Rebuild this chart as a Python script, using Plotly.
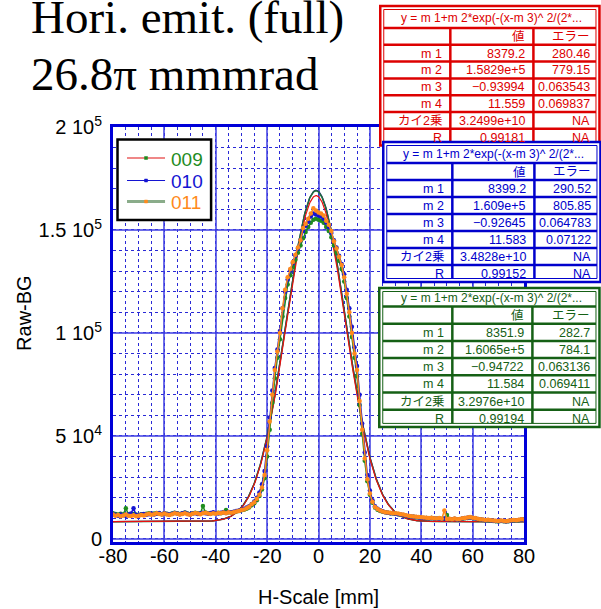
import numpy as np
import plotly.graph_objects as go

# ---------------- data ----------------
x_mm = list(range(-80, 81))

# Raw-BG counts (in thousands), 1 mm steps
raw_009_k = [
    12.5, 12.1, 11.8, 12.2, 11.9, 14.9, 12.0, 11.7, 12.1, 11.8,
    11.6, 12.0, 11.8, 12.2, 12.5, 12.1, 12.3, 12.6, 12.2, 12.0,
    12.5, 12.2, 11.9, 12.3, 12.7, 12.4, 12.1, 12.4, 12.8, 12.3,
    12.0, 12.4, 12.7, 12.4, 12.2, 16.0, 12.8, 12.4, 12.3, 12.6,
    12.4, 12.7, 12.5, 12.9, 14.0,
    13.0, 12.8, 13.1, 13.3, 13.5, 13.9, 14.2, 14.7, 15.3, 16.3, 17.3, 18.8, 20.8, 24.0, 29.5,
    40.0, 53.0, 66.0, 78.0, 88.0, 97.0, 108.0, 117.0, 123.5, 128.0,
    132.0, 135.5, 139.0, 142.5, 146.0, 149.0, 151.5, 153.5, 155.0, 155.5,
    155.0, 154.5, 153.5, 151.5, 149.5, 146.5, 142.5, 139.0, 135.0, 131.0,
    125.0, 117.0, 108.0, 98.0, 88.0, 79.0, 65.0, 51.0, 38.0, 28.0, 21.5,
    17.5, 15.2, 14.2, 13.6, 13.2, 12.9, 12.7, 12.5, 12.3, 12.2,
    12.0, 11.7, 11.5, 11.3, 11.0, 10.8, 10.7, 10.5, 10.4, 10.3,
    10.2, 10.1, 10.0, 10.1, 9.9, 9.8, 10.0, 9.7, 9.8, 11.6,
    9.6, 9.5, 9.7, 9.4, 9.6, 9.8, 10.0, 10.2, 10.4, 10.1,
    9.9, 9.6, 9.4, 9.2, 9.0, 9.1, 8.8, 8.7, 8.6, 8.5,
    8.7, 8.6, 8.4, 8.6, 8.8, 9.0, 8.9, 9.1, 9.3, 9.4,
]
raw_010_k = [
    12.0, 11.7, 11.3, 11.8, 11.5, 11.2, 11.9, 12.3, 14.9, 11.6,
    11.4, 11.8, 12.1, 11.7, 12.0, 12.3, 11.9, 12.2, 12.6, 12.0,
    12.4, 12.1, 11.8, 12.2, 12.6, 12.3, 12.0, 12.4, 12.7, 12.2,
    11.9, 12.3, 12.5, 12.1, 12.4, 12.7, 12.4, 12.2, 12.6, 12.9,
    12.5, 12.3, 12.7, 13.0, 12.6,
    13.1, 12.9, 13.2, 13.5, 13.8, 14.2, 14.6, 15.2, 15.9, 17.0, 18.2, 20.0, 22.5, 26.5, 33.0,
    45.0, 59.0, 72.0, 83.0, 92.0, 101.0, 112.0, 120.0, 126.0, 130.5,
    134.0, 137.5, 141.0, 145.0, 149.5, 152.0, 154.0, 156.5, 158.0, 157.5,
    157.0, 156.5, 155.5, 153.5, 151.5, 148.5, 145.0, 141.5, 137.5, 133.5,
    128.5, 121.0, 112.0, 103.0, 93.0, 84.0, 70.0, 56.0, 42.0, 31.0, 23.5,
    18.8, 15.8, 14.6, 13.9, 13.4, 13.0, 12.7, 12.5, 12.4, 12.2,
    12.0, 11.8, 11.6, 11.3, 11.0, 10.9, 10.7, 10.6, 10.4, 10.3,
    10.2, 10.1, 10.0, 10.2, 9.9, 9.8, 9.9, 9.7, 9.9, 9.6,
    9.7, 9.5, 9.8, 9.4, 9.6, 9.9, 10.1, 10.3, 10.5, 10.2,
    10.0, 9.7, 9.5, 9.3, 9.1, 9.2, 8.9, 8.8, 8.7, 8.6,
    8.8, 8.7, 8.5, 8.7, 8.9, 9.1, 9.0, 9.2, 9.4, 9.3,
]
raw_011_k = [
    11.8, 11.2, 11.6, 11.0, 11.4, 11.9, 11.3, 11.1, 11.5, 11.0,
    11.2, 11.6, 11.4, 11.9, 12.2, 11.7, 12.0, 12.4, 12.1, 11.8,
    12.3, 11.9, 11.6, 12.0, 12.5, 12.2, 11.8, 12.1, 12.4, 12.0,
    11.7, 12.2, 12.6, 12.3, 12.0, 12.4, 12.7, 12.3, 12.1, 12.5,
    12.2, 12.6, 12.4, 12.8, 12.5,
    12.9, 12.7, 13.0, 13.3, 13.6, 14.0, 14.3, 14.9, 15.6, 16.8, 17.8, 19.5, 21.5, 25.0, 31.0,
    43.0, 57.0, 70.0, 82.0, 91.0, 100.0, 112.0, 121.0, 127.0, 131.0,
    134.5, 138.0, 141.5, 145.0, 151.0, 153.0, 155.5, 158.0, 160.5, 159.5,
    158.5, 158.0, 157.0, 154.5, 152.5, 149.5, 144.5, 141.0, 137.0, 133.0,
    127.0, 119.0, 110.0, 100.0, 90.0, 82.0, 67.0, 53.0, 39.0, 29.0, 22.0,
    18.0, 15.5, 14.5, 13.8, 13.3, 13.0, 12.8, 12.7, 12.5, 12.4,
    12.3, 12.0, 11.8, 11.5, 11.2, 11.0, 10.9, 10.7, 10.6, 10.5,
    10.4, 10.3, 10.2, 10.3, 10.0, 9.9, 10.1, 9.8, 13.8, 9.7,
    9.8, 9.6, 9.9, 9.5, 9.7, 10.0, 10.2, 10.4, 10.6, 10.3,
    10.1, 9.8, 9.6, 9.4, 9.2, 9.3, 9.0, 8.9, 8.8, 8.7,
    8.9, 8.8, 8.6, 8.8, 9.0, 9.2, 9.1, 9.3, 9.5, 9.4,
]

series_names = ["009", "010", "011"]

# fit parameters  y = m1 + m2*exp(-(x-m3)^2/(2*m4^2))
fit_009 = [8379.2, 1.5829e5, -0.93994, 11.559]
fit_010 = [8399.2, 1.609e5, -0.92645, 11.583]
fit_011 = [8351.9, 1.6065e5, -0.94722, 11.584]

# table texts
table_rows = ["m 1", "m 2", "m 3", "m 4", "カイ2乗", "R"]
table_009_val = ["8379.2", "1.5829e+5", "−0.93994", "11.559", "3.2499e+10", "0.99181"]
table_009_err = ["280.46", "779.15", "0.063543", "0.069837", "NA", "NA"]
table_010_val = ["8399.2", "1.609e+5", "−0.92645", "11.583", "3.4828e+10", "0.99152"]
table_010_err = ["290.52", "805.85", "0.064783", "0.07122", "NA", "NA"]
table_011_val = ["8351.9", "1.6065e+5", "−0.94722", "11.584", "3.2976e+10", "0.99194"]
table_011_err = ["282.7", "784.1", "0.063136", "0.069411", "NA", "NA"]
table_title = "y = m 1+m 2*exp(-(x-m 3)^ 2/(2*..."

y_tickvals = [0, 50000, 100000, 150000, 200000]
y_ticktext = ["0", "5 10<sup>4</sup>", "1 10<sup>5</sup>", "1.5 10<sup>5</sup>", "2 10<sup>5</sup>"]
x_tickvals = [-80, -60, -40, -20, 0, 20, 40, 60, 80]
x_ticktext = ["-80", "-60", "-40", "-20", "0", "20", "40", "60", "80"]

# ---------------- styles ----------------
C_GREEN = "#1e8c1e"
C_BLUE = "#1414d2"
C_ORANGE = "#ff8a1c"
FRAME = "#0000d8"

W, H = 601, 609
PLOT_L, PLOT_R, PLOT_T, PLOT_B = 113, 523.6, 127, 542   # window pixels
L, T = PLOT_L, PLOT_T
R, B = W - PLOT_R, H - PLOT_B
PW, PH = PLOT_R - PLOT_L, PLOT_B - PLOT_T


def px_x(px):
    return (px - PLOT_L) / PW


def px_y(py):
    return (PLOT_B - py) / PH


fig = go.Figure()

# fit curves
xf = np.linspace(-80, 80, 641)


def gauss(p):
    return p[0] + p[1] * np.exp(-((xf - p[2]) ** 2) / (2 * p[3] ** 2))


fig.add_trace(go.Scatter(x=xf, y=gauss(fit_010), mode="lines",
                         line=dict(color="#22227a", width=1.3), showlegend=False, hoverinfo="skip"))
fig.add_trace(go.Scatter(x=xf, y=gauss(fit_011), mode="lines",
                         line=dict(color="#1f6e3c", width=1.5), showlegend=False, hoverinfo="skip"))
fig.add_trace(go.Scatter(x=xf, y=gauss(fit_009), mode="lines",
                         line=dict(color="#e81010", width=1.2), showlegend=False, hoverinfo="skip"))

# data
for vals, col, nm in [(raw_009_k, C_GREEN, "009"), (raw_010_k, C_BLUE, "010"), (raw_011_k, C_ORANGE, "011")]:
    fig.add_trace(go.Scatter(
        x=x_mm, y=[v * 1000 for v in vals], mode="lines+markers", name=nm,
        line=dict(color=col, width=1.5),
        marker=dict(color=col, size=4.5),
        showlegend=False))

shapes = []
annotations = []

SERIF = "Liberation Serif, Times New Roman, serif"
SANS = "Liberation Sans, Arial, sans-serif"

# title
annotations.append(dict(text="Hori. emit. (full)", x=px_x(29), y=px_y(17), xref="paper", yref="paper",
                        xanchor="left", yanchor="middle", showarrow=False,
                        font=dict(family=SERIF, size=47, color="black")))
annotations.append(dict(text="26.8π mmmrad", x=px_x(29), y=px_y(74), xref="paper", yref="paper",
                        xanchor="left", yanchor="middle", showarrow=False,
                        font=dict(family=SERIF, size=47, color="black")))

# axis titles
annotations.append(dict(text="H-Scale [mm]", x=px_x(318), y=px_y(597), xref="paper", yref="paper",
                        xanchor="center", yanchor="middle", showarrow=False,
                        font=dict(family=SANS, size=20, color="black")))
annotations.append(dict(text="Raw-BG", x=px_x(24), y=px_y(313), xref="paper", yref="paper",
                        xanchor="center", yanchor="middle", showarrow=False, textangle=-90,
                        font=dict(family=SANS, size=20, color="black")))

# legend box (drawn)
shapes.append(dict(type="rect", xref="paper", yref="paper",
                   x0=px_x(117.5), x1=px_x(211), y0=px_y(220), y1=px_y(139.5),
                   fillcolor="white", line=dict(color="black", width=2.5), layer="above"))
leg_style = [("#e01010", 1.2, C_GREEN), (C_BLUE, 1.2, C_BLUE), ("#8aac8a", 3, C_ORANGE)]
leg_y = [158, 180.5, 201.5]
for (lc, lw, mc), nm, yy in zip(leg_style, series_names, leg_y):
    shapes.append(dict(type="line", xref="paper", yref="paper",
                       x0=px_x(127), x1=px_x(165), y0=px_y(yy), y1=px_y(yy),
                       line=dict(color=lc, width=lw), layer="above"))
    shapes.append(dict(type="rect", xref="paper", yref="paper",
                       x0=px_x(144.5), x1=px_x(147.5), y0=px_y(yy + 1.5), y1=px_y(yy - 1.5),
                       fillcolor=mc, line=dict(color=mc, width=0.5), layer="above"))
    annotations.append(dict(text=nm, x=px_x(169), y=px_y(yy + 1), xref="paper", yref="paper",
                            xanchor="left", yanchor="middle", showarrow=False,
                            font=dict(family=SANS, size=19, color=mc)))

TFONT = "Liberation Sans, Arial, Noto Sans CJK JP, sans-serif"


def add_table(color, left, top, right, title_bottom, row_h, col1, col2, vals, errs):
    bottom = title_bottom + 7 * row_h
    shapes.append(dict(type="rect", xref="paper", yref="paper",
                       x0=px_x(left), x1=px_x(right), y0=px_y(bottom), y1=px_y(top),
                       fillcolor="white", line=dict(color=color, width=2.5), layer="above"))
    shapes.append(dict(type="rect", xref="paper", yref="paper",
                       x0=px_x(left + 3.5), x1=px_x(right - 3.5), y0=px_y(bottom - 3.5), y1=px_y(top + 3.5),
                       fillcolor="rgba(0,0,0,0)", line=dict(color=color, width=1), layer="above"))
    for k in range(7):
        yy = title_bottom + k * row_h
        shapes.append(dict(type="line", xref="paper", yref="paper",
                           x0=px_x(left + 3.5), x1=px_x(right - 3.5), y0=px_y(yy), y1=px_y(yy),
                           line=dict(color=color, width=2.5), layer="above"))
    for cx in (col1, col2):
        shapes.append(dict(type="line", xref="paper", yref="paper",
                           x0=px_x(cx), x1=px_x(cx), y0=px_y(title_bottom), y1=px_y(bottom - 3.5),
                           line=dict(color=color, width=2.5), layer="above"))
    annotations.append(dict(text=table_title, x=px_x((left + right) / 2 + 2), y=px_y((top + title_bottom) / 2 + 1),
                            xref="paper", yref="paper", xanchor="center", yanchor="middle",
                            showarrow=False, font=dict(family=TFONT, size=12, color=color)))
    header = ["値", "エラー"]
    rows = [("", header[0], header[1])] + list(zip(table_rows, vals, errs))
    for i, (a, b, c) in enumerate(rows):
        yc = title_bottom + (i + 0.5) * row_h + 0.5
        for txt, xr in ((a, col1 - 6), (b, col2 - 6), (c, right - 7)):
            if txt:
                annotations.append(dict(text=txt, x=px_x(xr), y=px_y(yc), xref="paper", yref="paper",
                                        xanchor="right", yanchor="middle", showarrow=False,
                                        font=dict(family=TFONT, size=12.5, color=color)))


add_table("#dd0000", 380, 6, 599, 28, 16.8, 450, 533, table_009_val, table_009_err)
add_table("#0000cc", 383, 142, 600, 163, 17.0, 452, 534, table_010_val, table_010_err)
add_table("#156015", 379, 288, 599, 306.5, 17.2, 452, 532, table_011_val, table_011_err)

axis_common = dict(
    showline=True, linecolor=FRAME, linewidth=3, mirror=True,
    showgrid=True, gridcolor="rgba(60,60,225,0.75)", gridwidth=1.5,
    zeroline=False, ticks="",
    tickfont=dict(family=SANS, size=20, color="black"),
)

fig.update_layout(
    width=W, height=H,
    margin=dict(l=L, r=R, t=T, b=B, pad=0),
    paper_bgcolor="white", plot_bgcolor="white",
    font=dict(family=SANS, color="black"),
    showlegend=False,
    xaxis=dict(range=[-80, 80], tickvals=x_tickvals, ticktext=x_ticktext, ticklabelstandoff=-6,
               minor=dict(dtick=5, tick0=0, showgrid=True, gridcolor="#2a2ad6", gridwidth=1, griddash="dot"),
               **axis_common),
    yaxis=dict(range=[-1500, 200000], tickvals=y_tickvals, ticktext=y_ticktext, ticklabelstandoff=4,
               minor=dict(dtick=10000, tick0=0, showgrid=True, gridcolor="#2a2ad6", gridwidth=1, griddash="dot"),
               **axis_common),
    shapes=shapes, annotations=annotations,
)

# remove the browser's default 8px body margin so the figure sits at the window origin
fig.write_html("out.html", config={"displayModeBar": False},
               post_script="document.body.style.margin='0px';document.body.style.overflow='hidden';")
